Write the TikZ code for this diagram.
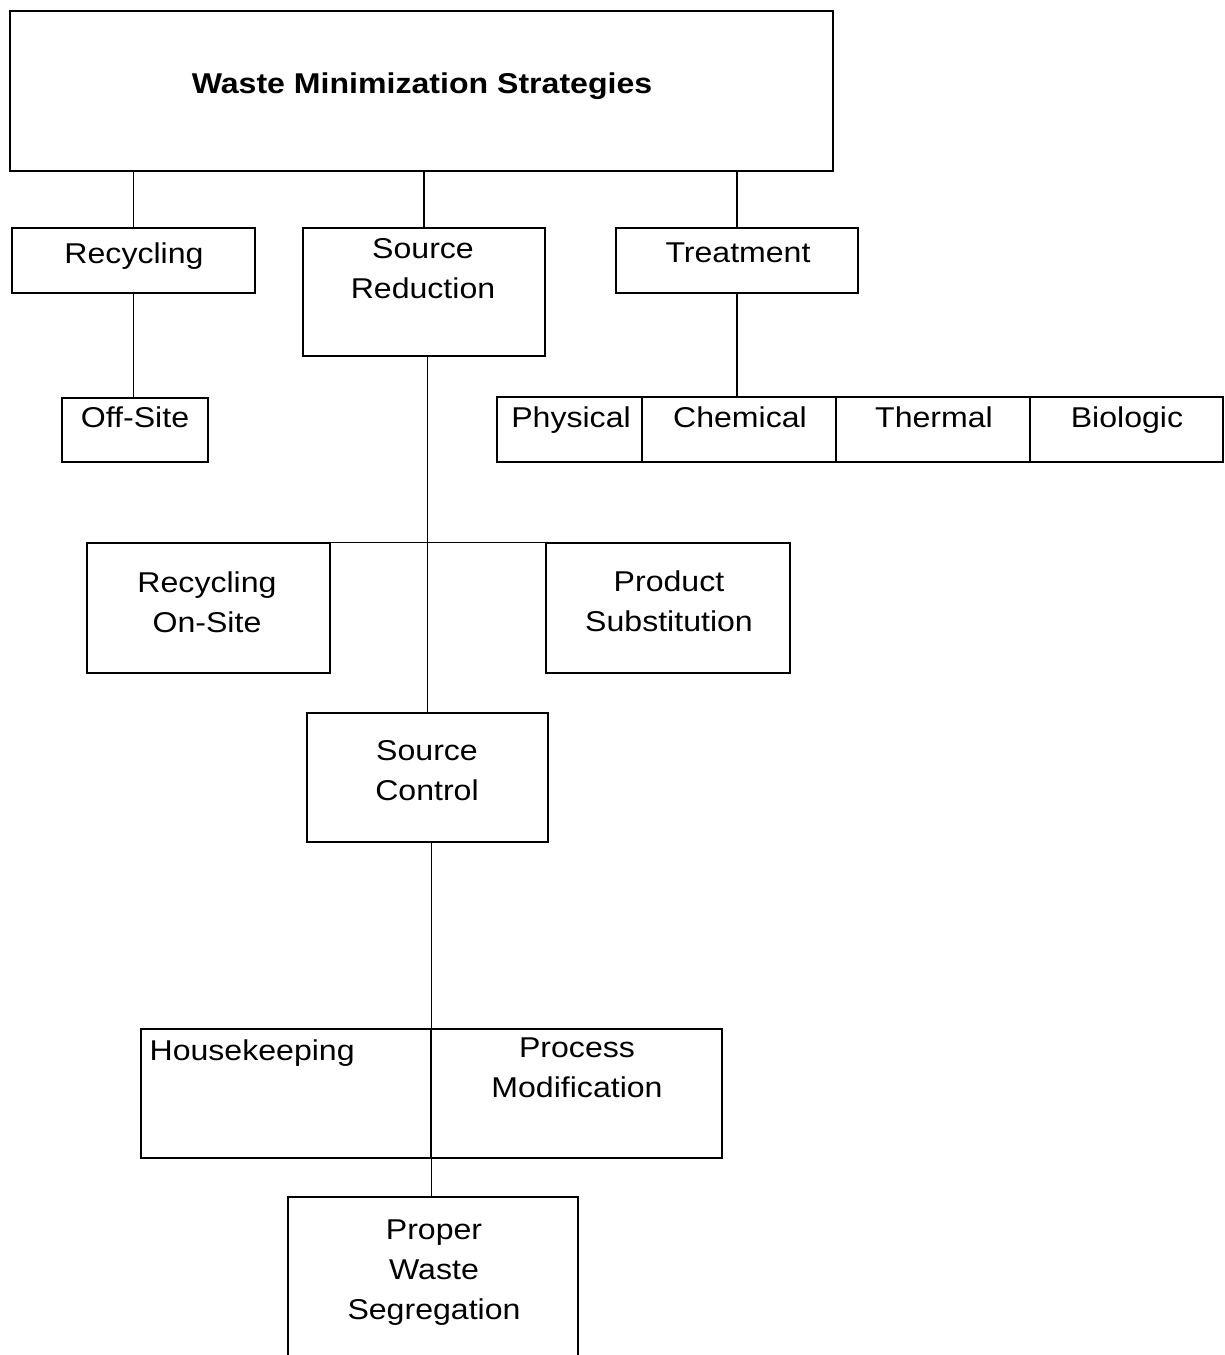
\documentclass[tikz,border=0pt]{standalone}
\usepackage{fontspec}
\setmainfont{Liberation Sans}[FakeStretch=1.12]
\usetikzlibrary{fit}

\begin{document}
\begin{tikzpicture}[x=0.02cm, y=-0.02cm, line width=0.7pt,
	box/.style={draw, rectangle, inner sep=0pt, fit={#1}},
	lbl/.style={inner sep=0pt, align=center, anchor=north, font=\fontsize{16.3}{22.7}\selectfont}]
	\useasboundingbox (0,0) rectangle (1224,1355);

	\node[box={(10,11) (833,171)}]		(top)		{};
	\node[box={(12,228) (255,293)}]		(recyc)		{};
	\node[box={(303,228) (545,356)}]	(srcred)	{};
	\node[box={(616,228) (858,293)}]	(treat)		{};
	\node[box={(62,398) (208,462)}]		(offsite)	{};
	\node[box={(497,397) (642,462)}]	(phys)		{};
	\node[box={(642,397) (836,462)}]	(chem)		{};
	\node[box={(836,397) (1030,462)}]	(therm)		{};
	\node[box={(1030,397) (1223,462)}]	(bio)		{};
	\node[box={(87,543) (330,673)}]		(onsite)	{};
	\node[box={(546,543) (790,673)}]	(prodsub)	{};
	\node[box={(307,713) (548,842)}]	(srcctl)	{};
	\node[box={(141,1029) (431,1158)}]	(house)		{};
	\node[box={(431,1029) (722,1158)}]	(procmod)	{};
	\node[box={(288,1197) (578,1365)}]	(proper)	{};

	\node[lbl]	(top-t)		at (422,72)		{\bfseries Waste Minimization Strategies};
	\node[lbl]	(recyc-t)	at (134,242)	{Recycling};
	\node[lbl]	(srcred-t)	at (423,238)	{Source\\Reduction};
	\node[lbl]	(treat-t)	at (738,242)	{Treatment};
	\node[lbl]	(offsite-t)	at (135,406)	{Off-Site};
	\node[lbl]	(phys-t)	at (571,406)	{Physical};
	\node[lbl]	(chem-t)	at (740,406)	{Chemical};
	\node[lbl]	(therm-t)	at (934,406)	{Thermal};
	\node[lbl]	(bio-t)		at (1127,406)	{Biologic};
	\node[lbl]	(onsite-t)	at (207,571)	{Recycling\\On-Site};
	\node[lbl]	(prodsub-t)	at (669,570)	{Product\\Substitution};
	\node[lbl]	(srcctl-t)	at (427,740)	{Source\\Control};
	\node[lbl, anchor=north west]	(house-t)	at (149,1039)	{Housekeeping};
	\node[lbl]	(procmod-t)	at (577,1037)	{Process\\Modification};
	\node[lbl]	(proper-t)	at (434,1219)	{Proper\\Waste\\Segregation};

	\path
	(top.south -| recyc.north)	edge	(recyc.north)
	(top.south -| srcred.north)	edge	(srcred.north)
	(top.south -| treat.north)	edge	(treat.north)
	(recyc.south)	edge	(recyc.south |- offsite.north)
	(treat.south)	edge	(treat.south |- chem.north)
	(srcctl.north |- srcred.south)	edge	(srcctl.north)
	(onsite.north east)	edge	(prodsub.north west)
	(house.north east |- srcctl.south)	edge	(house.north east)
	(house.south east)	edge	(house.south east |- proper.north);
\end{tikzpicture}
\end{document}
